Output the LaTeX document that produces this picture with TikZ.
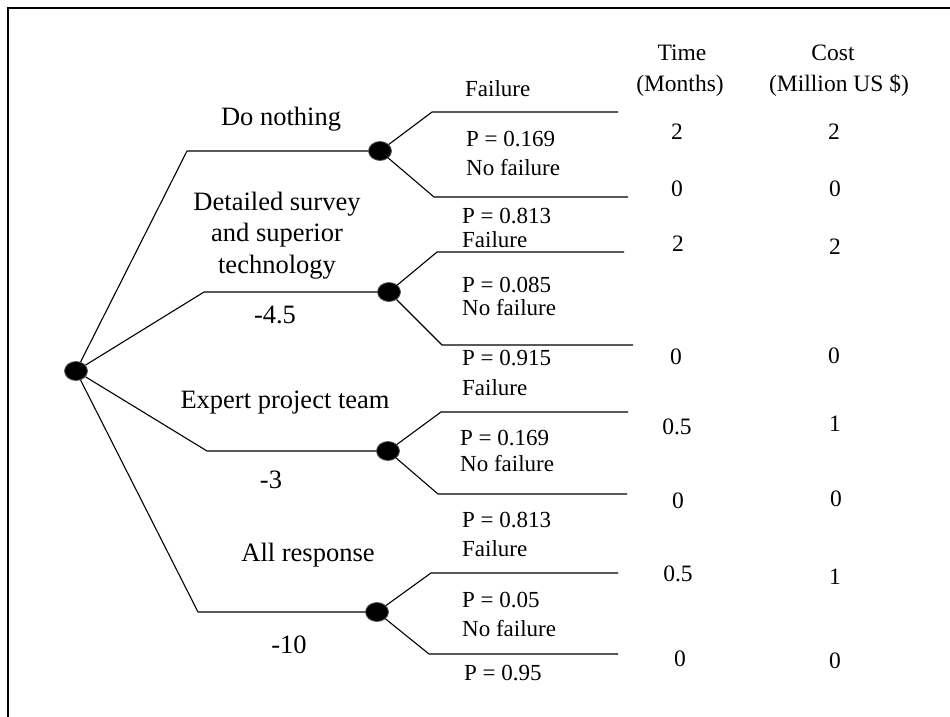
\documentclass[tikz,border=0pt]{standalone}
\usepackage{fontspec}
\setmainfont{Liberation Serif}
\usetikzlibrary{shapes.geometric}
\begin{document}
\begin{tikzpicture}[x=1pt,y=-1pt,
  edge/.style={line width=1.1pt, line join=round},
  chance/.style={ellipse, minimum width=23pt, minimum height=19pt, inner sep=0pt,
                 fill=black, draw=black!65, line width=0.8pt},
  biglbl/.style={inner sep=0pt, anchor=base, font=\fontsize{26.5}{31}\selectfont},
  smalllbl/.style={inner sep=0pt, anchor=base west, font=\fontsize{23}{27}\selectfont},
  val/.style={inner sep=0pt, anchor=base, font=\fontsize{23.5}{28}\selectfont}]
\useasboundingbox (0,0) rectangle (950,717);

% frame (top and left edges)
\draw[line width=1.1pt] (950,8) -- (8,8) -- (8,717);

% decision node and chance nodes
\node[chance] (root) at (76,371) {};
\node[chance] (c1) at (380,151) {};
\node[chance] (c2) at (389,292) {};
\node[chance] (c3) at (388,451) {};
\node[chance] (c4) at (377,612) {};

% bends of the decision branches
\coordinate (k1) at (187,151);
\coordinate (k2) at (204,292);
\coordinate (k3) at (207,451);
\coordinate (k4) at (198,612);

\draw[edge] (root) -- (k1) -- (c1);
\draw[edge] (root) -- (k2) -- (c2);
\draw[edge] (root) -- (k3) -- (c3);
\draw[edge] (root) -- (k4) -- (c4);

% outcome branch ends
\coordinate (f1a) at (432,112); \coordinate (f1b) at (618,112);
\coordinate (n1a) at (434,197); \coordinate (n1b) at (628,197);
\coordinate (f2a) at (437,252); \coordinate (f2b) at (624,252);
\coordinate (n2a) at (442,345); \coordinate (n2b) at (633,345);
\coordinate (f3a) at (441,412); \coordinate (f3b) at (628,412);
\coordinate (n3a) at (438,494); \coordinate (n3b) at (627,494);
\coordinate (f4a) at (431,573); \coordinate (f4b) at (618,573);
\coordinate (n4a) at (429,654); \coordinate (n4b) at (618,654);

\draw[edge] (c1) -- (f1a) -- (f1b);
\draw[edge] (c1) -- (n1a) -- (n1b);
\draw[edge] (c2) -- (f2a) -- (f2b);
\draw[edge] (c2) -- (n2a) -- (n2b);
\draw[edge] (c3) -- (f3a) -- (f3b);
\draw[edge] (c3) -- (n3a) -- (n3b);
\draw[edge] (c4) -- (f4a) -- (f4b);
\draw[edge] (c4) -- (n4a) -- (n4b);

% decision labels
\node[biglbl] (d1) at (281,125) {Do nothing};
\node[biglbl] (d2a) at (277,210) {Detailed survey};
\node[biglbl] (d2b) at (277,241) {and superior};
\node[biglbl] (d2c) at (277,273) {technology};
\node[biglbl] (v2) at (275,323) {-4.5};
\node[biglbl] (d3) at (285,408) {Expert project team};
\node[biglbl] (v3) at (271,488) {-3};
\node[biglbl] (d4) at (308,561) {All response};
\node[biglbl] (v4) at (289,653) {-10};

% outcome labels
\node[smalllbl] (o1a) at (465,96) {Failure};
\node[smalllbl] (o1b) at (466,146) {P = 0.169};
\node[smalllbl] (o1c) at (466,175) {No failure};
\node[smalllbl] (o1d) at (462,223.5) {P = 0.813};
\node[smalllbl] (o2a) at (462,247) {Failure};
\node[smalllbl] (o2b) at (462,292) {P = 0.085};
\node[smalllbl] (o2c) at (462,315) {No failure};
\node[smalllbl] (o2d) at (462,365) {P = 0.915};
\node[smalllbl] (o3a) at (462,395) {Failure};
\node[smalllbl] (o3b) at (460,445) {P = 0.169};
\node[smalllbl] (o3c) at (460,471) {No failure};
\node[smalllbl] (o3d) at (462,527) {P = 0.813};
\node[smalllbl] (o4a) at (462,556) {Failure};
\node[smalllbl] (o4b) at (462,607) {P = 0.05};
\node[smalllbl] (o4c) at (462,636) {No failure};
\node[smalllbl] (o4d) at (464,680) {P = 0.95};

% column headers
\node[val] (ht1) at (682,60) {Time};
\node[val] (ht2) at (680,91.5) {(Months)};
\node[val] (hc1) at (833,60) {Cost};
\node[val] (hc2) at (839,91.5) {(Million US \$)};

% time values
\node[val] (t1) at (677,139) {2};
\node[val] (t2) at (677,196) {0};
\node[val] (t3) at (678,251) {2};
\node[val] (t4) at (676,364) {0};
\node[val] (t5) at (677,434) {0.5};
\node[val] (t6) at (678,508) {0};
\node[val] (t7) at (678,581) {0.5};
\node[val] (t8) at (680,666) {0};

% cost values
\node[val] (s1) at (834,139) {2};
\node[val] (s2) at (835,196) {0};
\node[val] (s3) at (835,254) {2};
\node[val] (s4) at (834,363) {0};
\node[val] (s5) at (835,431) {1};
\node[val] (s6) at (836,506) {0};
\node[val] (s7) at (835,584) {1};
\node[val] (s8) at (835,668) {0};
\end{tikzpicture}
\end{document}
